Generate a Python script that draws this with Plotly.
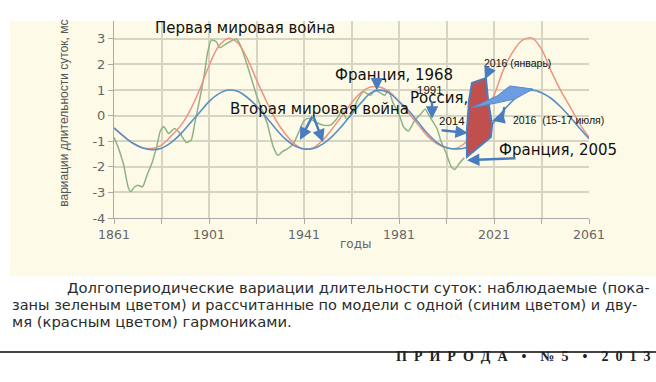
import plotly.graph_objects as go

# ---------------- data ----------------
model_years = list(range(1861, 2062, 4))
one_harmonic = [-0.48, -0.8, -1.08, -1.26, -1.33, -1.27, -1.05, -0.72, -0.3, 0.12,
                0.55, 0.85, 1.0, 0.95, 0.72, 0.38, -0.05, -0.5, -0.9, -1.18,
                -1.3, -1.28, -1.1, -0.8, -0.4, 0.05, 0.5, 0.88, 1.0, 0.88,
                0.55, 0.2, -0.25, -0.7, -1.05, -1.25, -1.3, -1.25, -1.0, -0.65,
                -0.25, 0.2, 0.6, 0.9, 1.0, 0.9, 0.68, 0.35, -0.05, -0.48, -0.9]
two_harmonics = [-0.48, -0.8, -1.08, -1.25, -1.28, -1.15, -0.8, -0.4, 0.2, 1.0,
                 1.95, 2.7, 3.02, 2.85, 2.25, 1.4, 0.6, -0.15, -0.7, -1.1,
                 -1.3, -1.25, -0.95, -0.5, 0.0, 0.5, 0.9, 1.12, 1.12, 0.92,
                 0.55, 0.1, -0.35, -0.8, -1.1, -1.25, -1.28, -1.05, -0.55, 0.1,
                 0.8, 1.8, 2.5, 2.95, 3.03, 2.6, 1.75, 1.0, 0.35, -0.3, -0.85]

obs_years = [1861, 1863, 1865, 1867, 1868, 1869.5, 1871, 1873, 1875, 1877,
             1879, 1880.5, 1882, 1884, 1886.5, 1889, 1891.5, 1893.5, 1895, 1897,
             1899, 1900.5, 1902, 1904, 1905.5, 1908, 1910, 1912.5, 1914, 1917,
             1919, 1921, 1923, 1925.5, 1928, 1930, 1932, 1934, 1936.5, 1939,
             1941, 1943, 1946, 1949, 1952, 1955, 1957, 1959, 1961, 1963.5,
             1966, 1969, 1971, 1973, 1975, 1976.5, 1978.5, 1981, 1983, 1985,
             1987.5, 1990, 1992, 1994, 1997, 1998.5, 2001, 2003, 2004.5, 2006.5,
             2008.5]
observed = [-0.85, -1.3, -1.9, -2.8, -2.97, -2.8, -2.72, -2.78, -2.3, -1.85,
            -1.2, -0.6, -0.43, -0.7, -0.5, -0.72, -1.05, -0.95, -0.3, 0.6,
            1.6, 2.5, 2.95, 2.9, 2.65, 2.8, 2.9, 3.0, 2.8, 2.0,
            1.4, 0.8, 0.3, -0.3, -1.2, -1.55, -1.4, -1.3, -1.1, -0.6,
            -0.2, -0.1, -0.25, -0.37, -0.37, -0.1, 0.2, -0.15, 0.1, 0.6,
            0.93, 0.8, 1.0, 0.9, 0.8, 1.0, 0.5, 0.05, -0.45, -0.6,
            -0.2, 0.05, 0.25, -0.05, -0.5, -0.95, -1.5, -2.0, -2.1, -1.85,
            -1.65]

y_ticks = [-4, -3, -2, -1, 0, 1, 2, 3]
y_tick_labels = ["-4", "-3", "-2", "-1", "0", "1", "2", "3"]
x_ticks = [1861, 1901, 1941, 1981, 2021, 2061]

# annotation shapes (data units)
red_zone_x = [2011.7, 2017.6, 2018.5, 2020.2, 2019.7, 2009.6, 2009.6, 2010.5]
red_zone_y = [1.28, 1.47, 0.61, -0.36, -0.83, -1.61, -0.56, 0.61]
wedge_x = [2011.3, 2022.3, 2027.7, 2037.4, 2029.8, 2022.3]
wedge_y = [0.30, 0.77, 1.16, 1.04, 0.65, 0.50]

GREEN = "#8fb283"
RED = "#ec9480"
BLUE = "#5b8ec4"
ARROW = "#4a7cc0"

fig = go.Figure()
fig.add_trace(go.Scatter(x=obs_years, y=observed, mode="lines",
                         line=dict(color=GREEN, width=1.5, shape="spline", smoothing=0.6),
                         hoverinfo="skip"))
fig.add_trace(go.Scatter(x=model_years, y=two_harmonics, mode="lines",
                         line=dict(color=RED, width=1.5, shape="spline"),
                         hoverinfo="skip"))
fig.add_trace(go.Scatter(x=model_years, y=one_harmonic, mode="lines",
                         line=dict(color=BLUE, width=1.6, shape="spline"),
                         hoverinfo="skip"))

def path(xs, ys):
    return "M " + " L ".join(f"{a},{b}" for a, b in zip(xs, ys)) + " Z"

shapes = [
    # cream panel
    dict(type="rect", xref="paper", yref="paper", x0=-0.219, x1=1.141, y0=-0.2944, y1=1.0,
         fillcolor="#fdfbe8", line=dict(width=0), layer="below"),
    # rule under caption
    dict(type="line", xref="paper", yref="paper", x0=-0.24, x1=1.141, y0=-0.68, y1=-0.68,
         line=dict(color="#444", width=2)),
    # red zone
    dict(type="path", xref="x", yref="y", path=path(red_zone_x, red_zone_y),
         fillcolor="#c0504d", line=dict(color=ARROW, width=2), layer="above"),
    # blue wedge
    dict(type="path", xref="x", yref="y", path=path(wedge_x, wedge_y),
         fillcolor="#6d9de0", line=dict(color="#5588cc", width=1), layer="above"),
    # bent part of the July arrow
    dict(type="line", xref="x", yref="y", x0=2025.4, y0=0.34, x1=2024.6, y1=-0.09,
         line=dict(color=ARROW, width=2.5)),
]

def arrow(xh, yh, xt, yt):
    return dict(x=xh, y=yh, ax=xt, ay=yt, xref="x", yref="y", axref="x", ayref="y",
                text="", showarrow=True, arrowhead=2, arrowsize=1, arrowwidth=2.5,
                arrowcolor=ARROW)

def label(x, y, text, size, family="DejaVu Sans", xanchor="left", color="#111"):
    return dict(x=x, y=y, xref="x", yref="y", text=text, showarrow=False,
                xanchor=xanchor, yanchor="middle",
                font=dict(family=family, size=size, color=color))

SP = "\u2002"
BIG = "\u2002\u2002"
journal = SP.join("ПРИРОДА") + BIG + "•" + BIG + "№" + SP + "5" + BIG + "•" + BIG + SP.join("2013")

annotations = [
    label(1877.4, 3.43, "Первая мировая война", 15),
    label(1909.0, 0.26, "Вторая мировая война", 15),
    label(1953.2, 1.59, "Франция, 1968", 15),
    label(1994.0, 1.0, "1991", 11.5, "Liberation Sans", "center"),
    label(1984.8, 0.69, "Россия,", 15),
    label(2003.3, -0.2, "2014", 11.5, "Liberation Sans", "center"),
    label(2016.0, 2.06, "2016 (январь)", 10.5, "Liberation Sans"),
    label(2028.2, -0.17, "2016  (15-17 июля)", 10.5, "Liberation Sans"),
    label(2022.3, -1.35, "Франция, 2005", 15),
    arrow(1939.3, -0.95, 1944.8, 0.02),
    arrow(1949.0, -1.03, 1944.8, 0.02),
    arrow(1971.7, 0.98, 1971.7, 1.4),
    arrow(1994.9, -0.12, 1994.9, 0.6),
    arrow(2010.0, -0.68, 1998.3, -0.56),
    arrow(2017.2, 1.42, 2019.3, 1.86),
    arrow(2009.6, -1.74, 2030.7, -1.66),
    arrow(2020.2, -0.2, 2024.6, -0.09),
    # axis titles
    dict(x=-0.126, y=0.53, xref="paper", yref="paper", text="вариации длительности суток, мс",
         textangle=-90, showarrow=False, font=dict(family="Liberation Sans", size=12, color="#555")),
    dict(x=(355 - 114) / 475, y=(218 - 253) / 197, xref="paper", yref="paper", text="годы",
         showarrow=False, font=dict(family="DejaVu Sans", size=12, color="#666")),
    # caption
    dict(x=(65 - 114) / 475, y=(218 - 298) / 197, xref="paper", yref="paper", xanchor="left",
         text="Долгопериодические вариации длительности суток: наблюдаемые (пока-",
         showarrow=False, font=dict(family="DejaVu Sans", size=14.8, color="#2b2b2b")),
    dict(x=(10 - 114) / 475, y=(218 - 315) / 197, xref="paper", yref="paper", xanchor="left",
         text="заны зеленым цветом) и рассчитанные по модели с одной (синим цветом) и дву-",
         showarrow=False, font=dict(family="DejaVu Sans", size=14.5, color="#2b2b2b")),
    dict(x=(10 - 114) / 475, y=(218 - 332) / 197, xref="paper", yref="paper", xanchor="left",
         text="мя (красным цветом) гармониками.",
         showarrow=False, font=dict(family="DejaVu Sans", size=14.8, color="#2b2b2b")),
    dict(x=(652 - 114) / 475, y=(218 - 366) / 197, xref="paper", yref="paper", xanchor="right",
         text="<b>" + journal + "</b>",
         showarrow=False, font=dict(family="Liberation Serif", size=14, color="#222")),
]

fig.update_layout(
    width=656, height=382,
    margin=dict(l=114, r=67, t=21, b=164),
    paper_bgcolor="white", plot_bgcolor="rgba(0,0,0,0)",
    showlegend=False,
    shapes=shapes, annotations=annotations,
    xaxis=dict(range=[1861, 2061], tickvals=x_ticks, showgrid=True, gridcolor="#d6d4c2",
               gridwidth=1.5, ticks="outside", ticklen=5, tickcolor="#aaa",
               showline=True, linecolor="#aaa", linewidth=1, zeroline=False,
               minor=dict(dtick=20, tick0=1861, showgrid=True, gridcolor="#d6d4c2",
                          gridwidth=1.5, ticks="outside", ticklen=5, tickcolor="#aaa"),
               tickfont=dict(family="DejaVu Sans", size=12.5, color="#666")),
    yaxis=dict(range=[-4, 3.7], tickvals=y_ticks, ticktext=y_tick_labels, showgrid=True,
               gridcolor="#d6d4c2", gridwidth=1.5, ticks="outside", ticklen=5,
               tickcolor="#aaa", showline=True, linecolor="#aaa", linewidth=1,
               zeroline=False, tickfont=dict(family="DejaVu Sans", size=13, color="#666")),
)

fig.write_html("out.html", config={"displayModeBar": False},
               post_script="document.body.style.margin='0px';")
